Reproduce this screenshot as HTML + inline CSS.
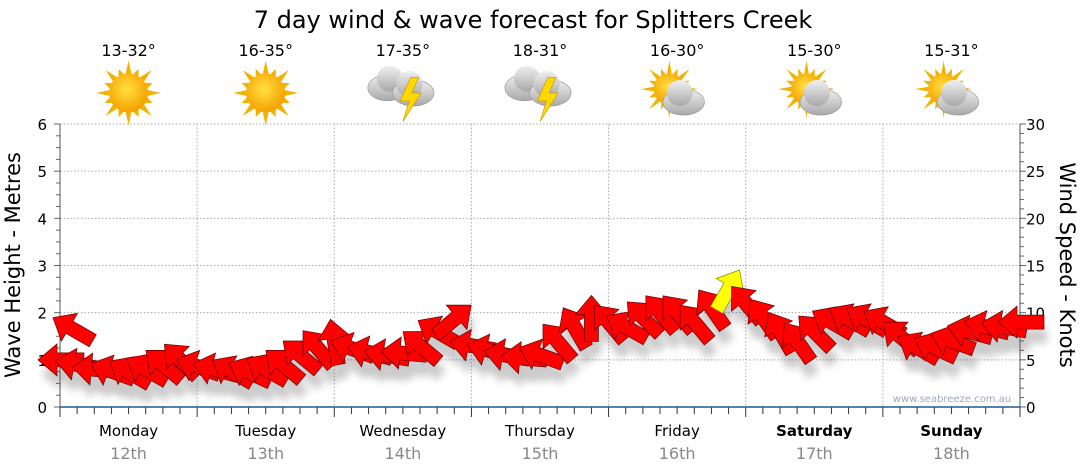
<!DOCTYPE html>
<html><head><meta charset="utf-8"><style>
body{margin:0;background:#fff;}
svg{display:block;font-family:"DejaVu Sans","Liberation Sans",sans-serif;}
</style></head><body>
<svg id="chart" width="1080" height="475" viewBox="0 0 1080 475">
<defs>
<radialGradient id="sunG" cx="45%" cy="40%" r="60%"><stop offset="0" stop-color="#ffe040"/><stop offset="1" stop-color="#f5a000"/></radialGradient>
<linearGradient id="cloudG" x1="0" y1="0" x2="0" y2="1"><stop offset="0" stop-color="#f0f0f0"/><stop offset="1" stop-color="#a8a8a8"/></linearGradient>
<filter id="shadow" x="-50%" y="-50%" width="200%" height="200%"><feGaussianBlur stdDeviation="4"/></filter>
</defs>
<text x="533" y="28" font-size="24" text-anchor="middle" fill="#000">7 day wind &amp; wave forecast for Splitters Creek</text>
<g id="grid"></g>
<g id="axes"></g>
<g id="icons"></g>
<g id="shadows" opacity="0.3"></g>
<g id="arrows"></g>
<text x="952" y="402" font-size="10" fill="#a0a8b8" text-anchor="middle">www.seabreeze.com.au</text>
<text transform="translate(20,265) rotate(-90)" font-size="21" text-anchor="middle">Wave Height - Metres</text>
<text transform="translate(1060,265) rotate(90)" font-size="21" text-anchor="middle">Wind Speed - Knots</text>
</svg>
<script>
const days = ["Monday","Tuesday","Wednesday","Thursday","Friday","Saturday","Sunday"];
const dates = ["12th","13th","14th","15th","16th","17th","18th"];
const temps = ["13-32°","16-35°","17-35°","18-31°","16-30°","15-30°","15-31°"];
const weather = ["sun","sun","storm","storm","partly","partly","partly"];
const waveTicks = [0,1,2,3,4,5,6];
const windTicks = [0,5,10,15,20,25,30];
// 3-hourly wind speed (knots) and arrow screen angle (deg, 0=right, 90=up)
const windSpeed = [5,4.5,4,3.8,3.7,4,4.5,5, 4.3,4,3.8,3.7,4,4.5,5.5,6.3, 7,6.2,5.8,5.5,5.7,6.5,8,9.3, 6.5,6,5.5,5.2,5.5,7,8.5,9.5, 9,8.5,9.5,10,10,9,10.5,12.5, 11,9.5,8,7,8,9,9.3,9.3, 9,7.5,6.3,6.3,7,8,8.5,8.5,9];
const windDir = [180,170,175,160,150,150,140,135, 160,165,150,155,150,140,140,130, 100,160,165,170,175,140,150,40, 170,165,170,175,160,130,120,90, 130,150,135,130,130,130,125,60, 130,125,120,125,135,150,150,150, 150,140,150,155,160,165,165,170,180];

const X0=60, X1=1020, Y0=407, Y1=124;
const xIdx = i => X0 + i*(X1-X0)/(windSpeed.length-1);
const yWave = v => Y0 - v*(Y0-Y1)/6;
const yWind = v => Y0 - v*(Y0-Y1)/30;
const dayX = i => X0 + i*(X1-X0)/7;
const NS="http://www.w3.org/2000/svg";
function mk(tag, attrs, parent){const e=document.createElementNS(NS,tag);for(const k in attrs)e.setAttribute(k,attrs[k]);parent.appendChild(e);return e;}
const grid=document.getElementById('grid'), axes=document.getElementById('axes'), icons=document.getElementById('icons');

waveTicks.forEach(v=>{
  if(v>0){const l=mk('line',{x1:X0,x2:X1,y1:yWave(v),y2:yWave(v),stroke:'#aaa','stroke-dasharray':'1.5,2'},grid);
  
  }
  const t=mk('text',{x:47,y:yWave(v)+6,'font-size':15,'text-anchor':'end'},axes);t.textContent=v;
  
  
});
for(let v=0;v<=6;v+=0.25){mk('line',{x1:X0-(v%1===0?6:4),x2:X0,y1:yWave(v),y2:yWave(v),stroke:'#666'},axes);}
windTicks.forEach(v=>{
  const t=mk('text',{x:1026,y:yWind(v)+6,'font-size':15},axes);t.textContent=v;
  
  
});
for(let v=0;v<=30;v++){mk('line',{x1:X1,x2:X1+(v%5===0?6:4),y1:yWind(v),y2:yWind(v),stroke:'#666'},axes);}
mk('line',{x1:X0,x2:X0,y1:Y1,y2:Y0,stroke:'#555'},axes);
mk('line',{x1:X1,x2:X1,y1:Y1,y2:Y0,stroke:'#555'},axes);
for(let i=1;i<7;i++){const l=mk('line',{x1:dayX(i),x2:dayX(i),y1:Y1,y2:Y0,stroke:'#aaa','stroke-dasharray':'1.5,2'},grid);
  
  }
for(let i=0;i<=56;i++){const x=xIdx(i);mk('line',{x1:x,x2:x,y1:Y0,y2:Y0+(i%8===0?10:7),stroke:'#333'},axes);}
const ax=mk('line',{x1:X0,x2:X1,y1:Y0,y2:Y0,stroke:'#1f5a8a','stroke-width':1.5},axes);



days.forEach((d,i)=>{
  const cx=dayX(i)+(X1-X0)/14;
  const weekend=i>=5;
  const t=mk('text',{x:cx,y:436,'font-size':15,'text-anchor':'middle','font-weight':weekend?'bold':'normal'},axes);t.textContent=d;
  
  
  const t2=mk('text',{x:cx,y:459,'font-size':16,'text-anchor':'middle',fill:'#888'},axes);t2.textContent=dates[i];
  
  
  const t3=mk('text',{x:cx,y:56,'font-size':16,'text-anchor':'middle'},icons);t3.textContent=temps[i];
  
  
  const g=mk('g',{transform:`translate(${cx},93) scale(1.3)`},icons);
  
  
  const w=weather[i];
  if(w==='sun'||w==='partly'){
    const sx=w==='sun'?0:-6, sy=w==='sun'?0:-3, r=w==='sun'?15:12;
    for(let k=0;k<16;k++){const a=k*Math.PI/8, L=k%2?r+5:r+10;
      mk('polygon',{points:`${sx+Math.cos(a-0.15)*r},${sy+Math.sin(a-0.15)*r} ${sx+Math.cos(a)*L},${sy+Math.sin(a)*L} ${sx+Math.cos(a+0.15)*r},${sy+Math.sin(a+0.15)*r}`,fill:'#f0b400'},g);}
    mk('circle',{cx:sx,cy:sy,r:r,fill:'url(#sunG)'},g);
  }
  if(w==='partly'||w==='storm'){
    const ox=w==='storm'?-8:5, oy=w==='storm'?-4:3;
    if(w==='storm'){mk('ellipse',{cx:ox-4,cy:oy,rx:15,ry:10,fill:'url(#cloudG)',stroke:'#999','stroke-width':0.5},g);mk('circle',{cx:ox-2,cy:oy-7,r:10,fill:'url(#cloudG)'},g);}
    const bx=w==='storm'?8:ox;
    mk('ellipse',{cx:bx,cy:oy+4,rx:16,ry:10,fill:'url(#cloudG)',stroke:'#999','stroke-width':0.5},g);
    mk('circle',{cx:bx-3,cy:oy-3,r:10,fill:'url(#cloudG)'},g);
    if(w==='storm'){mk('polygon',{points:`${bx-2},${oy-8} ${bx-10},${oy+10} ${bx-3},${oy+10} ${bx-8},${oy+26} ${bx+6},${oy+4} ${bx-1},${oy+4} ${bx+4},${oy-8}`,fill:'#ffd800',stroke:'#c89600','stroke-width':0.5},g);}
  }
});

const arrows=document.getElementById('arrows'), shadows=document.getElementById('shadows');
function arrowPts(){return "-24,-7 3,-7 3,-16 22,0 3,16 3,7 -24,7";}
windSpeed.forEach((v,i)=>{
  const x=xIdx(i), y=yWind(v), a=-windDir[i];
  mk('polygon',{points:arrowPts(),transform:`translate(${x+3},${y+14}) rotate(${a})`,fill:'#555',filter:'url(#shadow)'},shadows);
  const p=mk('polygon',{points:arrowPts(),transform:`translate(${x},${y}) rotate(${a})`,fill:v>=12?'#ffff00':'#ff0000',stroke:v>=12?'#8a8a00':'#6a0000','stroke-width':0.7},arrows);
  
  
});
const wa=mk('polygon',{points:arrowPts(),transform:`translate(${X0+12},${yWind(8.3)}) rotate(-150)`,fill:'#ff0000',stroke:'#6a0000','stroke-width':0.7},arrows);


</script>
</body></html>
